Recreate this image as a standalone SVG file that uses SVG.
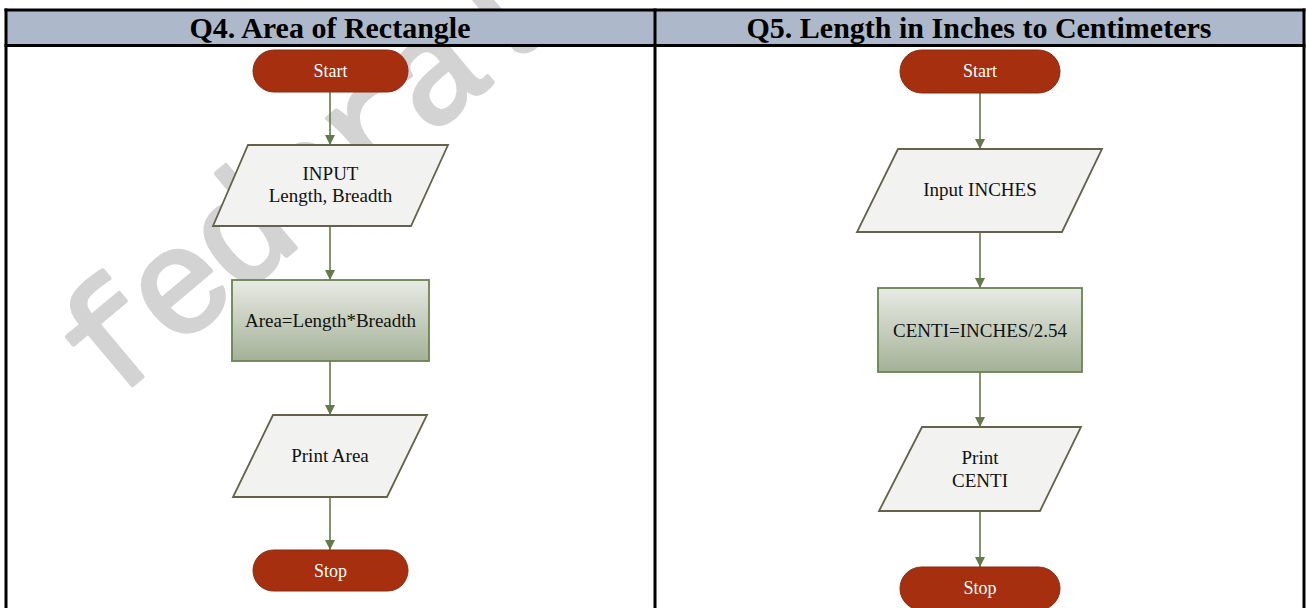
<svg xmlns="http://www.w3.org/2000/svg" width="1306" height="608" viewBox="0 0 1306 608">
  <defs>
    <linearGradient id="procFill" x1="0" y1="0" x2="0" y2="1">
      <stop offset="0" stop-color="#E8EBE5"/>
      <stop offset="1" stop-color="#A4B196"/>
    </linearGradient>
    <marker id="arrow" viewBox="0 0 10 10" refX="10" refY="5" markerWidth="10" markerHeight="10" markerUnits="userSpaceOnUse" orient="auto">
      <path d="M0,0 L10,5 L0,10 Z" fill="#647A4A"/>
    </marker>
  </defs>
  <style>
    .hdr { fill: #ADB9CA; }
    .rule { stroke: #000; stroke-width: 3; fill: none; }
    .title { font-family: "Liberation Serif", serif; font-weight: bold; font-size: 30px; fill: #000; text-anchor: middle; }
    .term { fill: #A52F0F; stroke: #8A2A10; stroke-width: 1; }
    .termText { font-family: "Liberation Serif", serif; font-size: 18px; fill: #FFFFFF; text-anchor: middle; }
    .io { fill: #F2F2F0; stroke: #64624A; stroke-width: 1.8; }
    .proc { fill: url(#procFill); stroke: #6C8253; stroke-width: 1.8; }
    .label { font-family: "Liberation Serif", serif; font-size: 19px; fill: #111; text-anchor: middle; }
    .link { stroke: #647A4A; stroke-width: 1.6; fill: none; marker-end: url(#arrow); }
    .mark { font-family: "Liberation Mono", monospace; font-size: 150px; letter-spacing: -7px; fill: #D3D3D3; stroke: #D3D3D3; stroke-width: 4; stroke-linejoin: round; }
  </style>

  <rect width="1306" height="608" fill="#FFFFFF"/>

  <!-- background watermark -->
  <text class="mark" x="110" y="404" transform="rotate(-40 110 404)">federal</text>

  <!-- table: header band and rules -->
  <g id="table">
    <rect class="hdr" x="6" y="10" width="1298" height="36"/>
    <line class="rule" x1="4.5" y1="10" x2="1305.5" y2="10"/>
    <line class="rule" x1="4.5" y1="45.5" x2="1305.5" y2="45.5"/>
    <line class="rule" x1="6" y1="8.5" x2="6" y2="608"/>
    <line class="rule" x1="655" y1="8.5" x2="655" y2="608"/>
    <line class="rule" x1="1304" y1="8.5" x2="1304" y2="608"/>
    <text class="title" x="330" y="38">Q4. Area of Rectangle</text>
    <text class="title" x="979" y="38">Q5. Length in Inches to Centimeters</text>
  </g>

  <!-- connectors -->
  <g id="connectors">
    <line class="link" x1="330" y1="92" x2="330" y2="145"/>
    <line class="link" x1="330" y1="226" x2="330" y2="280"/>
    <line class="link" x1="330" y1="361" x2="330" y2="415"/>
    <line class="link" x1="330" y1="497" x2="330" y2="550"/>
    <line class="link" x1="980" y1="93" x2="980" y2="149"/>
    <line class="link" x1="980" y1="232" x2="980" y2="288"/>
    <line class="link" x1="980" y1="372" x2="980" y2="427"/>
    <line class="link" x1="980" y1="511" x2="980" y2="567"/>
  </g>

  <!-- Q4 flowchart -->
  <g id="q4-start">
    <rect class="term" x="253" y="50" width="155" height="42" rx="21"/>
    <text class="termText" x="330.5" y="77">Start</text>
  </g>
  <g id="q4-input">
    <polygon class="io" points="248,145 448,145 411,226 213,226"/>
    <text class="label" x="330.5" y="180">INPUT</text>
    <text class="label" x="330.5" y="202">Length, Breadth</text>
  </g>
  <g id="q4-process">
    <rect class="proc" x="232" y="280" width="197" height="81"/>
    <text class="label" x="330.5" y="327">Area=Length*Breadth</text>
  </g>
  <g id="q4-output">
    <polygon class="io" points="273,415 427,415 387,497 233,497"/>
    <text class="label" x="330" y="462">Print Area</text>
  </g>
  <g id="q4-stop">
    <rect class="term" x="253" y="550" width="155" height="41" rx="20.5"/>
    <text class="termText" x="330.5" y="577">Stop</text>
  </g>

  <!-- Q5 flowchart -->
  <g id="q5-start">
    <rect class="term" x="900" y="50" width="160" height="43" rx="21.5"/>
    <text class="termText" x="980" y="77">Start</text>
  </g>
  <g id="q5-input">
    <polygon class="io" points="898,149 1102,149 1062,232 857,232"/>
    <text class="label" x="980" y="196">Input INCHES</text>
  </g>
  <g id="q5-process">
    <rect class="proc" x="878" y="288" width="204" height="84"/>
    <text class="label" x="980" y="337">CENTI=INCHES/2.54</text>
  </g>
  <g id="q5-output">
    <polygon class="io" points="922,427 1081,427 1040,511 879,511"/>
    <text class="label" x="980" y="464">Print</text>
    <text class="label" x="980" y="487">CENTI</text>
  </g>
  <g id="q5-stop">
    <rect class="term" x="900" y="567" width="160" height="43" rx="21.5"/>
    <text class="termText" x="980" y="594">Stop</text>
  </g>
</svg>
